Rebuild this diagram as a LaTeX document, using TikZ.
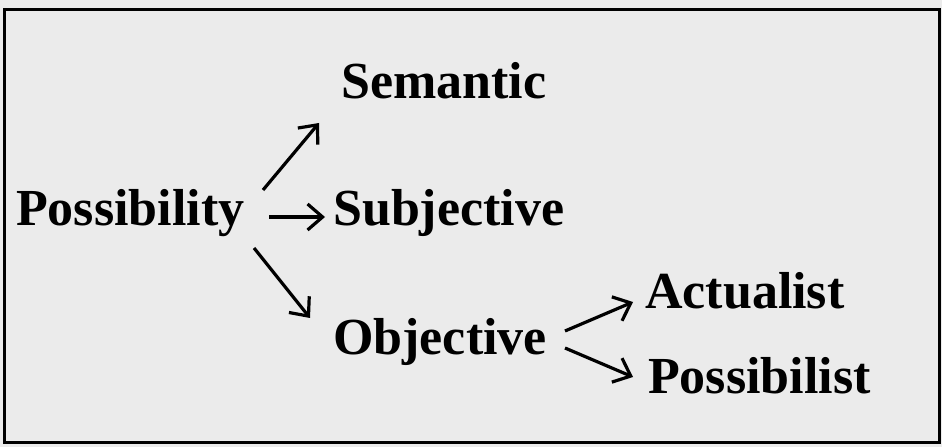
\documentclass[tikz,border=0pt]{standalone}
\usepackage{fontspec}
\setmainfont{Liberation Serif}
\usetikzlibrary{arrows.meta,calc}
\definecolor{bgcol}{RGB}{235,235,235}
\tikzset{
  lbl/.style={anchor=base west, inner sep=0pt, font=\fontsize{52}{60}\selectfont\bfseries},
  arr/.style={line width=3.2pt, -{Straight Barb[length=15pt,width=26pt,line width=3.2pt]}},
}
\begin{document}
\begin{tikzpicture}[x=1pt,y=1pt]
  \fill[bgcol] (0,0) rectangle (942,447);
  \useasboundingbox (0,0) rectangle (942,447);
  \draw[line width=3pt] (4,5) rectangle (939,437);
  \node[lbl] (poss) at (16,221) {Possibility};
  \node[lbl] (sem) at (341,348) {Semantic};
  \node[lbl] (subj) at (333,221) {Subjective};
  \node[lbl] (obj) at (333,92) {Objective};
  \node[lbl] (act) at (645,138) {Actualist};
  \node[lbl] (possb) at (648,53) {Possibilist};
  \draw[arr] ($(poss.base west)+(247,36)$) -- ($(sem.base west)+(-22,-24)$);
  \draw[arr] ($(poss.base west)+(253,9)$) -- ($(subj.base west)+(-8,9)$);
  \draw[arr] ($(poss.base west)+(238,-22)$) -- ($(obj.base west)+(-23,37)$);
  \draw[arr] ($(obj.base west)+(232,24)$) -- ($(act.base west)+(-12,7)$);
  \draw[arr] ($(obj.base west)+(232,7)$) -- ($(possb.base west)+(-15,17)$);
\end{tikzpicture}
\end{document}
